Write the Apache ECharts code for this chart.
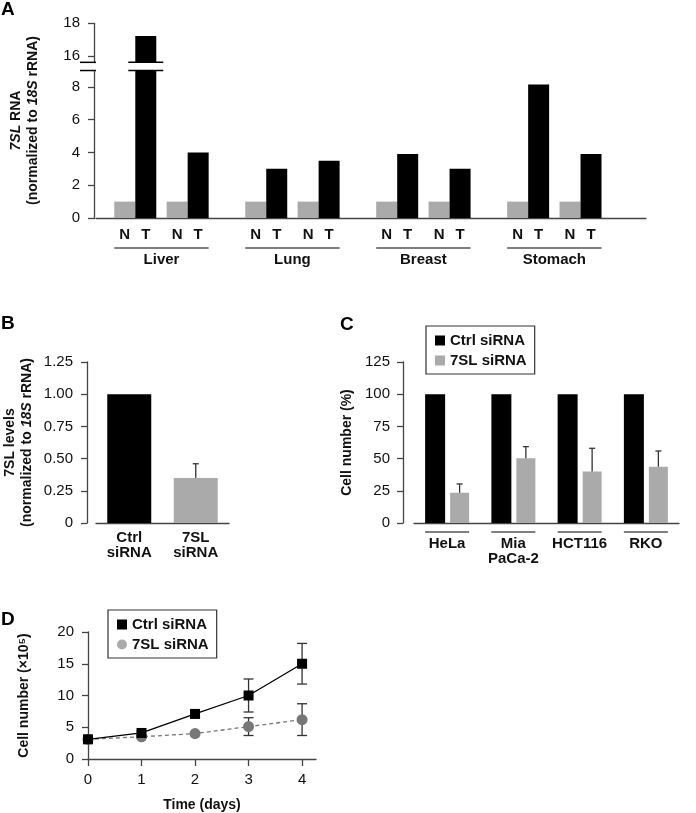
<!DOCTYPE html>
<html><head><meta charset="utf-8">
<script src="https://cdn.jsdelivr.net/npm/echarts@6/dist/echarts.min.js"></script>
<style>html,body{margin:0;padding:0;background:#fff}#c{width:696px;height:813px}</style>
</head><body><div id="c"></div>
<script>
// ---------------- Data ----------------
// Panel A
const aGroups = ['Liver', 'Lung', 'Breast', 'Stomach'];
const aNormal = [1, 1, 1, 1, 1, 1, 1, 1];
const aTumor = [17.2, 4.0, 3.0, 3.5, 3.9, 3.0, 8.15, 3.9];
const aBreak = [9.0, 15.6];
const aTicks = [0, 2, 4, 6, 8, 16, 18];
// Panel B
const bCats = ['Ctrl\nsiRNA', '7SL\nsiRNA'];
const bValues = [1.0, 0.35];
const bErrors = [0, 0.11];
// Panel C
const cLines = ['HeLa', 'Mia\nPaCa-2', 'HCT116', 'RKO'];
const cCtrl = [100, 100, 100, 100];
const c7SL = [23.5, 50.2, 40, 43.7];
const c7SLErr = [6.8, 9.1, 18, 12.2];
// Panel D
const dDays = [0, 1, 2, 3, 4];
const dCtrl = [3.1, 4.1, 7.1, 10.0, 15.0];
const dCtrlErr = [0.3, 0.3, 0.6, 2.6, 3.2];
const d7SL = [3.1, 3.5, 4.0, 5.1, 6.2];
const d7SLErr = [0.2, 0.2, 0.3, 1.4, 2.5];

// ---------------- Styles ----------------
const FONT = '"Liberation Sans", Arial, Helvetica, sans-serif';
const TXT = '#111';
const AX = '#444';
const BLACK = '#000';
const GRAY = '#aaaaaa';
const DGRAY = '#777777';
const GRID_A = {left: 90, top: 23, width: 556, height: 195};
const GRID_B = {left: 96, top: 362, width: 133, height: 161};
const GRID_C = {left: 414, top: 362, width: 265, height: 161};
const GRID_D = {left: 88, top: 632, width: 228, height: 130};
const A_BW = 21, C_BW1 = 20, C_BW2 = 19, C_GAP = 0.25, B_BW = 44;

// category slots for panel A (pairs with spacers between organs)
const SLOTS = aGroups.length * 5 + 1;
const slotOf = (g, k) => 1 + 5 * g + 2 * k;
const aSlotNames = [];
const aSlotLabel = {};
for (let i = 0; i < SLOTS; i++) aSlotNames.push('s' + i);
aGroups.forEach((g, gi) => { aSlotLabel['s' + (slotOf(gi, 0) + 1)] = g; });
const aNData = new Array(SLOTS).fill('-');
const aTData = new Array(SLOTS).fill('-');
aGroups.forEach((g, gi) => {
  for (let k = 0; k < 2; k++) {
    aNData[slotOf(gi, k)] = aNormal[gi * 2 + k];
    aTData[slotOf(gi, k)] = aTumor[gi * 2 + k];
  }
});

const tickLabel = {fontFamily: FONT, fontSize: 15, color: TXT};
const boldTxt = {fontFamily: FONT, fontSize: 15, fontWeight: 'bold', color: TXT};
const nameTxt = {fontFamily: FONT, fontSize: 14, fontWeight: 'bold', color: TXT};
function yAxisBase(gi, extra) {
  return Object.assign({
    type: 'value', gridIndex: gi,
    axisLine: {show: true, lineStyle: {color: AX, width: 1.3}},
    axisTick: {show: true, inside: false, length: 6, lineStyle: {color: AX, width: 1.3}},
    axisLabel: Object.assign({margin: 13}, tickLabel),
    splitLine: {show: false},
    nameLocation: 'middle', nameRotate: 90,
    nameTextStyle: Object.assign({lineHeight: 17}, nameTxt)
  }, extra);
}
function xAxisCat(gi, data, extra) {
  return Object.assign({
    type: 'category', gridIndex: gi, data: data,
    axisLine: {show: true, lineStyle: {color: AX, width: 1.3}},
    axisTick: {show: false},
    axisLabel: Object.assign({interval: 0, lineHeight: 15}, boldTxt)
  }, extra);
}

function errRender(capHalf, dx, both) {
  return function (params, api) {
    const x = api.value(0), lo = api.value(1), hi = api.value(2);
    const p1 = api.coord([x, lo]), p2 = api.coord([x, hi]);
    const cx = p1[0] + dx;
    const style = {stroke: '#333', lineWidth: 1.3, fill: null};
    const ch = [
      {type: 'line', shape: {x1: cx, y1: p1[1], x2: cx, y2: p2[1]}, style: style},
      {type: 'line', shape: {x1: cx - capHalf, y1: p2[1], x2: cx + capHalf, y2: p2[1]}, style: style}
    ];
    if (both) ch.push({type: 'line', shape: {x1: cx - capHalf, y1: p1[1], x2: cx + capHalf, y2: p1[1]}, style: style});
    return {type: 'group', children: ch};
  };
}

const cOffset = ((C_BW1 * (1 + C_GAP) + C_BW2) / 2) - C_BW2 / 2;
const italicRich = {i: {fontStyle: 'italic', fontWeight: 'bold', fontSize: 14, fontFamily: FONT, color: TXT, lineHeight: 17}};
const legendBase = {
  orient: 'vertical', selectedMode: false,
  padding: [7, 8, 6, 9], itemGap: 5, itemWidth: 10, itemHeight: 10,
  borderColor: '#333', borderWidth: 1.2, textStyle: boldTxt
};

const option = {
  animation: false,
  backgroundColor: '#fff',
  textStyle: {fontFamily: FONT},
  grid: [GRID_A, GRID_B, GRID_C, GRID_D].map(g => Object.assign({containLabel: false}, g)),
  legend: [
    Object.assign({
      left: 426, top: 326,
      data: [
        {name: 'Ctrl siRNA', icon: 'rect', itemStyle: {color: BLACK}},
        {name: '7SL siRNA', icon: 'rect', itemStyle: {color: GRAY}}
      ]
    }, legendBase),
    Object.assign({
      left: 108, top: 610, lineStyle: {opacity: 0},
      data: [
        {name: 'Ctrl siRNA', icon: 'rect', itemStyle: {color: BLACK}},
        {name: '7SL siRNA', icon: 'circle', itemStyle: {color: GRAY}}
      ]
    }, legendBase)
  ],
  xAxis: [
    xAxisCat(0, aSlotNames, {
      axisLabel: Object.assign({interval: 0, margin: 34, formatter: v => aSlotLabel[v] || ''}, boldTxt)
    }),
    xAxisCat(1, bCats, {axisLabel: Object.assign({interval: 0, margin: 7, lineHeight: 15}, boldTxt)}),
    xAxisCat(2, cLines, {axisLabel: Object.assign({interval: 0, margin: 13, lineHeight: 15}, boldTxt)}),
    {
      type: 'value', gridIndex: 3, min: 0, max: 4.26,
      axisLine: {show: true, lineStyle: {color: AX, width: 1.3}},
      axisTick: {show: true, customValues: dDays, length: 7, lineStyle: {color: AX, width: 1.3}},
      axisLabel: Object.assign({customValues: dDays, margin: 13}, tickLabel),
      splitLine: {show: false},
      name: 'Time (days)', nameLocation: 'middle', nameGap: 39,
      nameTextStyle: nameTxt
    }
  ],
  yAxis: [
    yAxisBase(0, {
      min: 0, max: 18, interval: 2, offset: 2,
      breaks: [{start: aBreak[0], end: aBreak[1], gap: 0.5}],
      breakArea: {
        show: true, zigzagAmplitude: 0, zigzagZ: 100, expandOnClick: false,
        itemStyle: {color: '#fff', opacity: 1, borderColor: '#fff', borderWidth: 0}
      },
      axisTick: {show: true, inside: false, length: 6, customValues: aTicks, lineStyle: {color: AX, width: 1.3}},
      axisLabel: Object.assign({margin: 14, customValues: aTicks, hideOverlap: false,
        formatter: (v, i, extra) => (extra && extra.break) ? '' : String(v)}, tickLabel),
      name: '{i|7SL} RNA\n(normalized to {i|18S} rRNA)', nameGap: 52,
      nameTextStyle: Object.assign({lineHeight: 17, rich: italicRich}, nameTxt)
    }),
    yAxisBase(1, {
      min: 0, max: 1.25, interval: 0.25, offset: 9,
      axisLabel: Object.assign({margin: 14, formatter: v => v === 0 ? '0' : v.toFixed(2)}, tickLabel),
      name: '7SL levels\n(normalized to {i|18S} rRNA)', nameGap: 51,
      nameTextStyle: Object.assign({lineHeight: 17, rich: italicRich}, nameTxt)
    }),
    yAxisBase(2, {
      min: 0, max: 125, interval: 25, offset: 11,
      axisLabel: Object.assign({margin: 13}, tickLabel),
      name: 'Cell number (%)', nameGap: 47
    }),
    yAxisBase(3, {
      min: 0, max: 20, interval: 5,
      axisLabel: Object.assign({margin: 14}, tickLabel),
      name: 'Cell number (×10⁵)', nameGap: 55
    })
  ],
  series: [
    {
      type: 'bar', name: 'Normal', xAxisIndex: 0, yAxisIndex: 0, data: aNData,
      barWidth: A_BW, barGap: '0%', itemStyle: {color: GRAY},
      label: {show: true, position: 'bottom', distance: 9, formatter: 'N', fontFamily: FONT, fontSize: 15, fontWeight: 'bold', color: TXT}
    },
    {
      type: 'bar', name: 'Tumor', xAxisIndex: 0, yAxisIndex: 0, data: aTData,
      barWidth: A_BW, barGap: '0%', itemStyle: {color: BLACK},
      label: {show: true, position: 'bottom', distance: 9, formatter: 'T', fontFamily: FONT, fontSize: 15, fontWeight: 'bold', color: TXT}
    },
    {
      type: 'bar', name: 'B', xAxisIndex: 1, yAxisIndex: 1, barWidth: B_BW,
      data: bValues.map((v, i) => ({value: v, itemStyle: {color: i === 0 ? BLACK : GRAY}}))
    },
    {
      type: 'custom', name: 'errB', xAxisIndex: 1, yAxisIndex: 1, z: 3,
      renderItem: errRender(3, 0, false), encode: {x: 0, y: [1, 2]},
      data: bValues.map((v, i) => [i, v, v + bErrors[i]]).filter((d, i) => bErrors[i] > 0)
    },
    {
      type: 'bar', name: 'Ctrl siRNA', xAxisIndex: 2, yAxisIndex: 2, data: cCtrl,
      barWidth: C_BW1, barGap: (C_GAP * 100) + '%', itemStyle: {color: BLACK}
    },
    {
      type: 'bar', name: '7SL siRNA', xAxisIndex: 2, yAxisIndex: 2, data: c7SL,
      barWidth: C_BW2, barGap: (C_GAP * 100) + '%', itemStyle: {color: GRAY}
    },
    {
      type: 'custom', name: 'errC', xAxisIndex: 2, yAxisIndex: 2, z: 3,
      renderItem: errRender(3, cOffset, false), encode: {x: 0, y: [1, 2]},
      data: c7SL.map((v, i) => [i, v, v + c7SLErr[i]])
    },
    {
      type: 'custom', name: 'errD1', xAxisIndex: 3, yAxisIndex: 3, z: 1,
      renderItem: errRender(5, 0, true), encode: {x: 0, y: [1, 2]},
      data: dDays.map((d, i) => [d, dCtrl[i] - dCtrlErr[i], dCtrl[i] + dCtrlErr[i]])
    },
    {
      type: 'custom', name: 'errD2', xAxisIndex: 3, yAxisIndex: 3, z: 1,
      renderItem: errRender(5, 0, true), encode: {x: 0, y: [1, 2]},
      data: dDays.map((d, i) => [d, d7SL[i] - d7SLErr[i], d7SL[i] + d7SLErr[i]])
    },
    {
      type: 'line', name: '7SL siRNA', xAxisIndex: 3, yAxisIndex: 3, z: 3,
      data: dDays.map((d, i) => [d, d7SL[i]]),
      symbol: 'circle', symbolSize: 11, itemStyle: {color: DGRAY},
      lineStyle: {color: DGRAY, width: 1.3, type: [4, 3]}
    },
    {
      type: 'line', name: 'Ctrl siRNA', xAxisIndex: 3, yAxisIndex: 3, z: 4,
      data: dDays.map((d, i) => [d, dCtrl[i]]),
      symbol: 'rect', symbolSize: 10, itemStyle: {color: BLACK},
      lineStyle: {color: BLACK, width: 1.3}
    }
  ]
};

const chart = echarts.init(document.getElementById('c'), null, {renderer: 'canvas'});
chart.setOption(option);

// ---- decorations computed through the chart's own scales ----
const graphics = [];
const panelLbl = (t, x, y) => ({type: 'text', left: x, top: y, style: {text: t, font: 'bold 19px ' + FONT, fill: '#000'}});
graphics.push(panelLbl('A', 1, 0), panelLbl('B', 1, 314), panelLbl('C', 340, 315), panelLbl('D', 1, 610));
const lineStyle = {stroke: '#555', lineWidth: 1.5};
// Panel A organ underlines
aGroups.forEach((g, gi) => {
  const p1 = chart.convertToPixel({gridIndex: 0}, [slotOf(gi, 0), 0]);
  const p2 = chart.convertToPixel({gridIndex: 0}, [slotOf(gi, 1), 0]);
  graphics.push({type: 'line', shape: {x1: p1[0] - A_BW, y1: p1[1] + 30, x2: p2[0] + A_BW, y2: p1[1] + 30}, style: lineStyle});
});
// Panel C cell-line overlines
cLines.forEach((c, i) => {
  const p = chart.convertToPixel({gridIndex: 2}, [i, 0]);
  graphics.push({type: 'line', shape: {x1: p[0] - 22, y1: p[1] + 9, x2: p[0] + 22, y2: p[1] + 9}, style: lineStyle});
});
// Panel A axis-break marks
const yb1 = chart.convertToPixel({yAxisIndex: 0}, aBreak[0]);
const yb2 = chart.convertToPixel({yAxisIndex: 0}, aBreak[1]);
const brk = {stroke: '#000', lineWidth: 1.5};
const axX = GRID_A.left - 2;
[yb1, yb2].forEach(y => graphics.push({type: 'line', shape: {x1: axX - 8, y1: y, x2: axX + 8, y2: y}, style: brk, z: 200}));
aTData.forEach((v, s) => {
  if (v !== '-' && v > aBreak[1]) {
    const p = chart.convertToPixel({gridIndex: 0}, [s, 0]);
    const cx = p[0] + A_BW / 2;
    [yb1, yb2].forEach(y => graphics.push({type: 'line', shape: {x1: cx - A_BW / 2 - 7, y1: y, x2: cx + A_BW / 2 + 7, y2: y}, style: brk, z: 200}));
  }
});
chart.setOption({graphic: graphics});
</script>
</body></html>
